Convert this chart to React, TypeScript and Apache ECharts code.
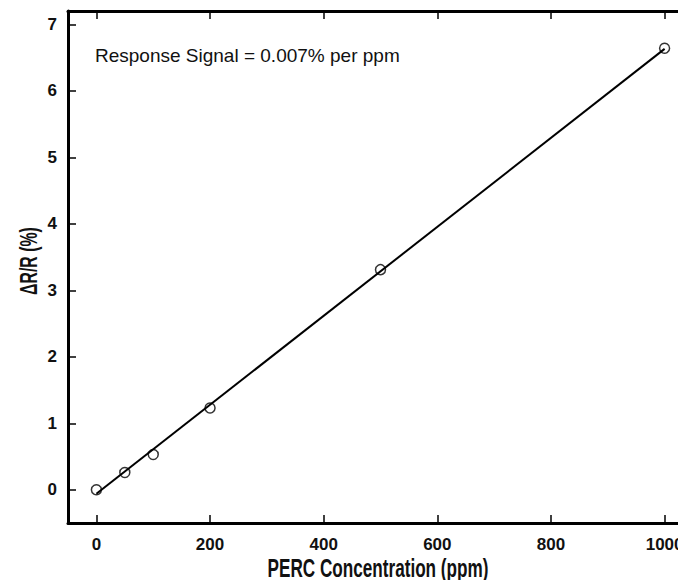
import React, { useEffect, useRef } from "react";
import * as echarts from "echarts";

const concentrations = [0, 50, 100, 200, 500, 1000];
const responses = [0.0, 0.26, 0.53, 1.23, 3.31, 6.64];
const fitX = [0, 1000];
const fitY = [-0.06, 6.63];
const xTicks = [0, 200, 400, 600, 800, 1000];
const yTicks = [0, 1, 2, 3, 4, 5, 6, 7];
const annotation = "Response Signal = 0.007% per ppm";
const xTitle = "PERC Concentration (ppm)";
const yTitle = "\u0394R/R (%)";

const FONT = "'Liberation Sans', Arial, sans-serif";

export default function App() {
  const ref = useRef<HTMLDivElement>(null);
  useEffect(() => {
    if (!ref.current) return;
    const chart = echarts.init(ref.current, undefined, { renderer: "svg" });
    const axisLine = { show: true, onZero: false, lineStyle: { color: "#000", width: 3 } };
    const tickStyle = { lineStyle: { color: "#000", width: 1.5 } };
    const labelStyle = {
      color: "#111",
      fontFamily: FONT,
      fontWeight: "bold",
      fontSize: 17,
      formatter: (v: number) => String(v),
    };
    chart.setOption({
      animation: false,
      backgroundColor: "#fff",
      grid: { left: 68, top: 11, right: 0, bottom: 65, containLabel: false, outerBoundsMode: "none" },
      xAxis: [
        {
          type: "value",
          min: -50,
          max: 1050,
          position: "bottom",
          axisLine,
          axisTick: { show: true, inside: true, length: 8, customValues: xTicks, ...tickStyle },
          axisLabel: { customValues: xTicks, margin: 13, ...labelStyle },
          splitLine: { show: false },
        },
        {
          type: "value",
          min: -50,
          max: 1050,
          position: "top",
          axisLine,
          axisTick: { show: true, inside: true, length: 8, customValues: xTicks, ...tickStyle },
          axisLabel: { show: false },
          splitLine: { show: false },
        },
      ],
      yAxis: [
        {
          type: "value",
          min: -0.5,
          max: 7.2,
          position: "left",
          axisLine,
          axisTick: { show: true, inside: true, length: 8, customValues: yTicks, ...tickStyle },
          axisLabel: { customValues: yTicks, margin: 11, ...labelStyle },
          splitLine: { show: false },
        },
        {
          type: "value",
          min: -0.5,
          max: 7.2,
          position: "right",
          axisLine,
          axisTick: { show: true, inside: true, length: 8, customValues: yTicks, ...tickStyle },
          axisLabel: { show: false },
          splitLine: { show: false },
        },
      ],
      graphic: [
        {
          type: "text",
          x: 95,
          y: 55,
          style: {
            text: annotation,
            fill: "#111",
            font: `19px ${FONT}`,
            textAlign: "left",
            textVerticalAlign: "middle",
          },
        },
        {
          type: "text",
          x: 378,
          y: 569,
          scaleX: 0.686,
          style: {
            text: xTitle,
            fill: "#111",
            font: `bold 25px ${FONT}`,
            textAlign: "center",
            textVerticalAlign: "middle",
          },
        },
        {
          type: "text",
          x: 29,
          y: 261,
          rotation: Math.PI / 2,
          scaleX: 0.69,
          style: {
            text: yTitle,
            fill: "#111",
            font: `bold 23px ${FONT}`,
            textAlign: "center",
            textVerticalAlign: "middle",
          },
        },
      ],
      series: [
        {
          type: "line",
          data: fitX.map((x, i) => [x, fitY[i]]),
          showSymbol: false,
          lineStyle: { color: "#000", width: 2 },
          z: 2,
        },
        {
          type: "scatter",
          data: concentrations.map((x, i) => [x, responses[i]]),
          symbol: "circle",
          symbolSize: 10,
          itemStyle: { color: "rgba(255,255,255,0)", borderColor: "#000", borderWidth: 1.5 },
          z: 3,
        },
      ],
    });
    return () => chart.dispose();
  }, []);
  return (
    <div style={{ width: 686, height: 588, overflow: "hidden", margin: -8 }}>
      <div ref={ref} style={{ width: 693, height: 588 }} />
    </div>
  );
}
